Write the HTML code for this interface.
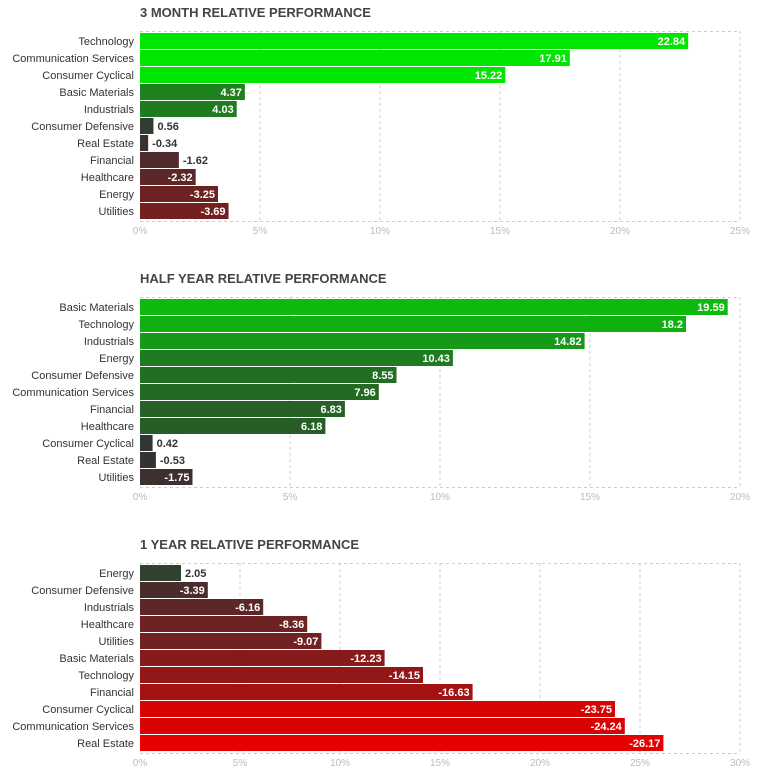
<!DOCTYPE html>
<html><head><meta charset="utf-8"><style>
body{margin:0;background:#fff;font-family:"Liberation Sans",sans-serif;}
svg{display:block}
</style></head><body>
<svg id="s" width="760" height="773"></svg>
<script>
const cats3M=["Technology","Communication Services","Consumer Cyclical","Basic Materials","Industrials","Consumer Defensive","Real Estate","Financial","Healthcare","Energy","Utilities"];
const vals3M=[22.84,17.91,15.22,4.37,4.03,0.56,-0.34,-1.62,-2.32,-3.25,-3.69];
const ticks3M=["0%","5%","10%","15%","20%","25%"];
const catsHY=["Basic Materials","Technology","Industrials","Energy","Consumer Defensive","Communication Services","Financial","Healthcare","Consumer Cyclical","Real Estate","Utilities"];
const valsHY=[19.59,18.2,14.82,10.43,8.55,7.96,6.83,6.18,0.42,-0.53,-1.75];
const ticksHY=["0%","5%","10%","15%","20%"];
const cats1Y=["Energy","Consumer Defensive","Industrials","Healthcare","Utilities","Basic Materials","Technology","Financial","Consumer Cyclical","Communication Services","Real Estate"];
const vals1Y=[2.05,-3.39,-6.16,-8.36,-9.07,-12.23,-14.15,-16.63,-23.75,-24.24,-26.17];
const ticks1Y=["0%","5%","10%","15%","20%","25%","30%"];

const NS="http://www.w3.org/2000/svg";
const svg=document.getElementById('s');
function mk(tag,attrs,parent){const e=document.createElementNS(NS,tag);for(const k in attrs)e.setAttribute(k,attrs[k]);(parent||svg).appendChild(e);return e;}
function color(v,cap){const t=Math.min(Math.abs(v)/cap,1);const b=51,m=Math.round(b+(230-b)*t),o=Math.round(b*(1-t));return v>=0?`rgb(${o},${m},${o})`:`rgb(${m},${o},${o})`;}
function chart(name,title,top,cats,vals,ticks,maxPct,cap){
  const g=mk('g',{});
  
  
  const x0=140,x1=740,rowH=17,y0=top+2,h=cats.length*rowH;
  const xs=v=>x0+Math.abs(v)/maxPct*(x1-x0);
  const t=mk('text',{x:140,y:top-14,'font-size':13,'font-weight':'bold',fill:'#444'},g);t.textContent=title;
  
  
  const gb=top+h+3;
  ticks.forEach((lbl,i)=>{const x=x0+i*(x1-x0)/(ticks.length-1);
    if(i>0)mk('line',{x1:x,y1:top,x2:x,y2:gb,stroke:'#ccc','stroke-dasharray':'3,3'},g);
    const tt=mk('text',{x:x,y:gb+13,'font-size':10,fill:'#bbb','text-anchor':'middle'},g);tt.textContent=lbl;
    
    });
  mk('line',{x1:x0,y1:top+0.5,x2:x1,y2:top+0.5,stroke:'#ccc','stroke-dasharray':'3,3'},g);
  mk('line',{x1:x0,y1:gb+0.5,x2:x1,y2:gb+0.5,stroke:'#ccc','stroke-dasharray':'3,3'},g);
  cats.forEach((c,i)=>{const y=y0+i*rowH,v=vals[i],xe=xs(v);
    const r=mk('rect',{x:x0,y:y,width:xe-x0,height:rowH-1,fill:color(v,cap)},g);
    
    
    const l=mk('text',{x:134,y:y+12,'font-size':11,fill:'#333','text-anchor':'end'},g);l.textContent=c;
    
    
    const inside=(xe-x0)>45;
    const vl=mk('text',{x:inside?xe-3:xe+4,y:y+12,'font-size':11,'font-weight':'bold',fill:inside?'#fff':'#333','text-anchor':inside?'end':'start'},g);
    vl.textContent=String(v);
    
    
  });
}
chart('chart-3-month','3 MONTH RELATIVE PERFORMANCE',31,cats3M,vals3M,ticks3M,25,10);
chart('chart-half-year','HALF YEAR RELATIVE PERFORMANCE',297,catsHY,valsHY,ticksHY,20,26);
chart('chart-1-year','1 YEAR RELATIVE PERFORMANCE',563,cats1Y,vals1Y,ticks1Y,30,26);
</script>
</body></html>
